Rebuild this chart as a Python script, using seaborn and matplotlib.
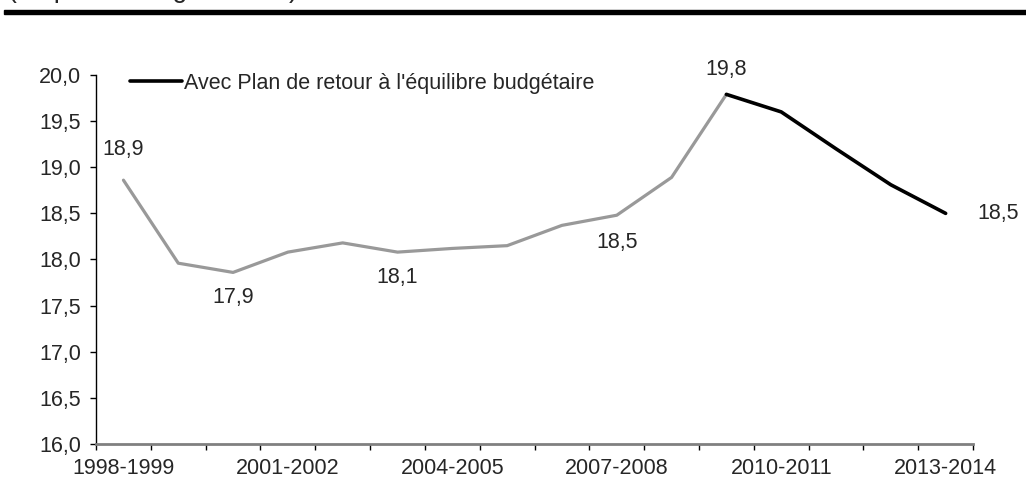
import numpy as np
import pandas as pd
import matplotlib
matplotlib.use("Agg")
import matplotlib.pyplot as plt
import seaborn as sns
from matplotlib.ticker import FuncFormatter, FixedLocator
from matplotlib.patches import Rectangle

# fiscal years and values (% of GDP)
years = ["1998-1999", "1999-2000", "2000-2001", "2001-2002", "2002-2003",
         "2003-2004", "2004-2005", "2005-2006", "2006-2007", "2007-2008",
         "2008-2009", "2009-2010", "2010-2011", "2011-2012", "2012-2013",
         "2013-2014"]
values = [18.86, 17.96, 17.86, 18.08, 18.18, 18.08, 18.12, 18.15, 18.37,
          18.48, 18.89, 19.79, 19.60, 19.20, 18.81, 18.50]
plan_start = "2009-2010"  # black segment starts here
tick_years = ["1998-1999", "2001-2002", "2004-2005", "2007-2008",
              "2010-2011", "2013-2014"]
labelled = ["1998-1999", "2000-2001", "2003-2004", "2007-2008",
            "2009-2010", "2013-2014"]
legend_label = "Avec Plan de retour à l'équilibre budgétaire"
title_text = "(en pourcentage du PIB)"

sns.set_style("white")
plt.rcParams["font.family"] = ["Liberation Sans", "DejaVu Sans"]
FS = 15.5

df = pd.DataFrame({"year": years, "value": values})
df["pos"] = np.arange(len(df))
split = years.index(plan_start)
hist = df[df["pos"] <= split]
plan = df[df["pos"] >= split]

fig = plt.figure(figsize=(10.26, 5.03), dpi=100)
ax = fig.add_axes([0.0936, 0.1173, 0.8548, 0.7336])

sns.lineplot(data=hist, x="pos", y="value", color="#999999", linewidth=2.3,
             ax=ax, sort=True)
sns.lineplot(data=plan, x="pos", y="value", color="black", linewidth=2.6,
             ax=ax, sort=True, label=legend_label)

ax.set_xlim(-0.5, len(years) - 0.5)
ax.set_ylim(16, 20)
ax.set_xlabel("")
ax.set_ylabel("")

# y axis
ax.set_yticks(np.arange(16, 20.01, 0.5))
ax.yaxis.set_major_formatter(FuncFormatter(lambda v, p: f"{v:.1f}".replace(".", ",")))
ax.tick_params(axis="y", direction="out", length=4, width=1, color="black",
               pad=7, labelsize=FS, left=True)

# x axis: boundary ticks, labels on selected categories
ax.xaxis.set_major_locator(FixedLocator(np.arange(-0.5, len(years), 1.0)))
ax.xaxis.set_major_formatter(FuncFormatter(lambda v, p: ""))
ax.xaxis.set_minor_locator(FixedLocator([years.index(y) for y in tick_years]))
ax.xaxis.set_minor_formatter(FuncFormatter(lambda v, p: years[int(round(v))]))
ax.tick_params(axis="x", which="major", direction="out", length=4, width=1,
               color="black", bottom=True)
ax.tick_params(axis="x", which="minor", length=0, pad=10, labelsize=FS,
               bottom=True)

for s in ["top", "right"]:
    ax.spines[s].set_visible(False)
ax.spines["left"].set_color("black")
ax.spines["left"].set_linewidth(1)
ax.spines["bottom"].set_color("#808080")
ax.spines["bottom"].set_linewidth(2)

# data labels
offsets = {"1998-1999": (0, 22), "2000-2001": (0, -18), "2003-2004": (0, -18),
           "2007-2008": (0, -20), "2009-2010": (0, 18), "2013-2014": (23, 0)}
for y in labelled:
    row = df[df["year"] == y].iloc[0]
    dx, dy = offsets[y]
    ax.annotate(f"{row['value']:.1f}".replace(".", ","), (row["pos"], row["value"]),
                xytext=(dx, dy), textcoords="offset points", fontsize=FS,
                ha="left" if dx > 0 else "center", va="center")

leg = ax.legend(loc="center left", bbox_to_anchor=(0.039, 0.978), frameon=False,
                fontsize=FS, borderpad=0, borderaxespad=0, handlelength=2.4,
                handletextpad=0.1)

# header: title cut by the top edge, as in the source, and thick rule
fig.text(8 / 1026, 1 + 3.5 / 503, title_text, fontsize=19.2, va="baseline",
         ha="left")
fig.patches.append(Rectangle((4 / 1026, 1 - 14 / 503), 1.0, 4 / 503,
                             transform=fig.transFigure, color="black",
                             figure=fig))

fig.savefig("out.png", dpi=100)
